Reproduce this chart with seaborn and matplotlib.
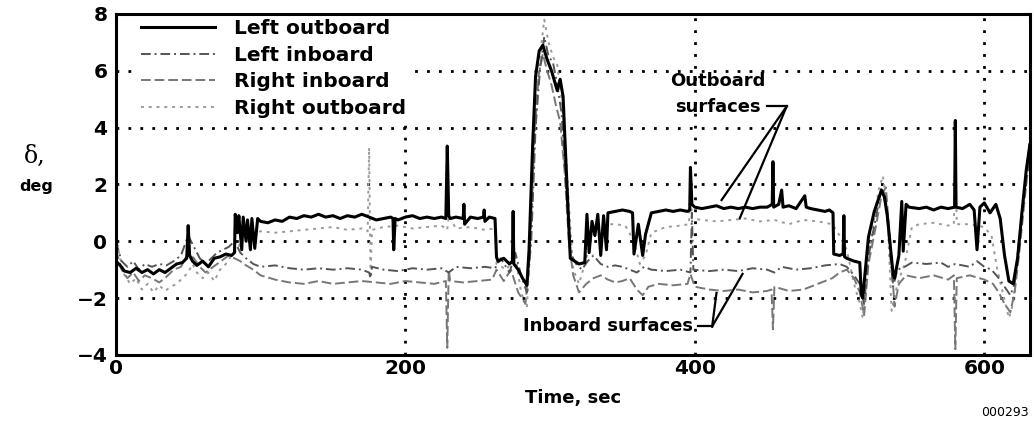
import numpy as np
import pandas as pd
import seaborn as sns
import matplotlib.pyplot as plt
from matplotlib.lines import Line2D

# Control surface deflections vs time
lo_t = [0, 3, 6, 10, 14, 18, 22, 26, 30, 34, 38, 42, 46, 49, 50, 51, 53, 56, 60, 64,
        68, 72, 76, 80, 82, 82.5, 84, 85, 87, 88, 90, 91, 93, 94, 96, 98, 100, 105, 110, 115,
        120, 125, 130, 135, 140, 145, 150, 155, 160, 165, 170, 175, 180, 185, 190, 191.5, 192, 193, 195, 200,
        205, 210, 215, 220, 225, 228, 229, 230, 231, 235, 240, 240.5, 241, 245, 250, 254, 254.5, 255, 258, 262,
        263, 264, 268, 272, 274, 274.5, 275, 278, 281, 284, 285.5, 288, 290, 292.5, 295, 298, 301, 305, 307, 309,
        311.5, 314, 317, 320, 324, 325.5, 327, 329, 331, 333, 335, 337, 339, 340, 345, 350, 355, 357, 358, 361,
        364, 366, 370, 375, 380, 385, 390, 395, 396.5, 397, 398, 400, 405, 410, 415, 420, 425, 430, 435, 440,
        445, 450, 453.5, 454, 454.5, 458, 460, 461, 465, 470, 476, 477, 480, 485, 490, 493, 495.5, 496, 500, 502.5,
        503, 503.5, 505, 510, 514, 515, 516, 520, 524, 529, 531, 533, 537, 538, 541, 543, 544, 546, 548, 555,
        560, 565, 570, 575, 579.5, 580, 580.5, 585, 590, 593, 595, 597, 600, 604, 608, 611, 614, 617, 620, 623,
        626, 629, 631.5]
lo_y = [-0.7, -0.85, -1.05, -1.1, -0.95, -1.1, -1.0, -1.15, -1.0, -1.1, -0.95, -0.8, -0.75, -0.6, 0.55, -0.5, -0.7, -0.85, -0.7, -0.9,
        -0.6, -0.55, -0.45, -0.5, -0.4, 0.95, 0.3, 0.9, -0.3, 0.85, 0.0, 0.75, -0.3, 0.8, -0.25, 0.8, 0.7, 0.65, 0.75, 0.7,
        0.85, 0.8, 0.9, 0.85, 0.95, 0.85, 0.9, 0.8, 0.9, 0.85, 0.95, 0.85, 0.75, 0.8, 0.85, 0.8, -0.3, 0.8, 0.75, 0.85,
        0.9, 0.8, 0.85, 0.8, 0.85, 0.8, 3.35, 0.9, 0.8, 0.85, 0.8, 1.3, 0.6, 0.85, 0.8, 0.85, 1.1, 0.7, 0.85, 0.8,
        -0.55, -0.7, -0.6, -0.8, -0.7, 1.05, -0.8, -1.0, -1.3, -1.55, -0.3, 3.4, 5.8, 6.7, 6.9, 6.4, 6.0, 5.3, 5.7, 5.1,
        2.2, -0.6, -0.7, -0.8, -0.75, 0.95, -0.4, 0.7, 0.2, 0.95, -0.5, 0.9, -0.3, 1.0, 1.05, 1.1, 1.05, 1.0, -0.45, 0.6,
        -0.5, 0.25, 1.0, 1.05, 1.1, 1.05, 1.1, 1.05, 1.1, 2.6, 1.3, 1.2, 1.15, 1.2, 1.25, 1.15, 1.2, 1.15, 1.2, 1.15,
        1.2, 1.2, 1.3, 2.8, 1.2, 1.3, 1.8, 1.2, 1.25, 1.15, 1.6, 1.2, 1.15, 1.1, 1.05, 1.1, 1.0, -0.45, -0.5, -0.45,
        0.9, -0.55, -0.6, -0.7, -0.75, -1.85, -2.0, 0.15, 1.05, 1.8, 1.55, 0.9, -1.15, -1.3, -0.5, 1.4, -0.35, 1.3, 1.2, 1.15,
        1.2, 1.1, 1.2, 1.15, 1.2, 4.25, 1.2, 1.15, 1.3, 1.1, -0.3, 1.2, 1.35, 1.0, 1.3, 0.8, -0.5, -1.4, -1.5, -0.6,
        1.0, 2.5, 3.4]

li_t = [0, 4, 8, 12, 16, 20, 25, 30, 35, 40, 45, 50, 54, 58, 62, 66, 70, 74, 78, 82,
        86, 90, 95, 100, 110, 120, 130, 140, 150, 160, 170, 175, 176, 177, 185, 195, 205, 215, 225, 230,
        235, 245, 255, 262, 266, 272, 276, 280, 284, 287, 290, 293, 296, 299, 302, 305, 308, 311, 314, 318,
        322, 326, 330, 335, 340, 345, 350, 355, 360, 365, 370, 380, 390, 397, 398, 399, 410, 420, 430, 440,
        450, 455, 460, 470, 480, 490, 500, 505, 510, 514, 517, 520, 525, 529, 532, 535, 537, 540, 545, 550,
        560, 570, 575, 580, 585, 590, 595, 600, 605, 610, 614, 618, 621, 624, 628, 631.5]
li_y = [0.0, -0.7, -0.9, -0.7, -1.0, -0.8, -0.9, -0.8, -0.85, -0.7, -0.5, 0.2, -0.2, -0.6, -0.8, -0.6, -0.4, -0.3, -0.2, 0.0,
        -0.4, -0.6, -0.8, -0.9, -0.85, -0.95, -1.0, -0.95, -1.0, -0.95, -1.0, -1.1, -1.3, -0.9, -1.0, -1.05, -0.95, -1.0, -0.95, -1.1,
        -0.9, -0.95, -0.9, -0.95, -0.6, -1.1, -0.4, -1.2, -1.8, 0.0, 4.0, 6.0, 7.2, 6.5, 6.3, 5.5, 4.5, 2.0, -0.4, -0.8,
        -1.0, -0.7, -0.5, -0.8, -0.9, -0.85, -0.9, -1.0, -1.1, -0.9, -1.0, -1.05, -1.0, -1.1, 1.0, -1.0, -1.05, -1.0, -1.05, -0.95,
        -1.0, -1.1, -0.9, -1.0, -0.95, -0.85, -0.8, -0.9, -1.2, -1.5, -2.2, -0.5, 0.8, 1.9, 1.5, -0.5, -1.6, -1.0, -0.9, -0.75,
        -0.8, -0.75, -0.9, -0.8, -0.85, -0.9, -0.7, -0.9, -1.0, -1.3, -1.6, -1.9, -1.5, 0.0, 1.8, 3.0]

ri_t = [0, 4, 8, 12, 16, 20, 25, 30, 35, 40, 45, 50, 54, 58, 62, 66, 70, 74, 78, 82,
        86, 90, 95, 100, 110, 120, 130, 140, 150, 160, 170, 180, 190, 200, 210, 220, 228, 229, 230, 231,
        240, 250, 260, 263, 268, 273, 278, 283, 286, 289, 292, 295, 298, 301, 304, 307, 310, 313, 316, 320,
        325, 330, 335, 340, 345, 350, 355, 360, 364, 368, 375, 385, 395, 397, 400, 410, 420, 430, 440, 450,
        453, 454, 455, 465, 475, 485, 495, 500, 505, 510, 514, 517, 520, 525, 529, 532, 535, 538, 541, 546,
        555, 565, 575, 579, 580, 581, 590, 600, 606, 610, 614, 618, 621, 624, 628, 631.5]
ri_y = [-0.3, -1.0, -1.3, -1.1, -1.4, -1.2, -1.3, -1.45, -1.25, -1.0, -0.9, -0.4, -0.6, -0.9, -1.1, -0.95, -0.8, -0.65, -0.5, -0.6,
        -0.7, -0.85, -1.0, -1.2, -1.35, -1.45, -1.5, -1.4, -1.5, -1.45, -1.4, -1.45, -1.5, -1.4, -1.45, -1.5, -1.4, -3.75, -1.0, -1.4,
        -1.45, -1.4, -1.35, -1.0, -1.4, -1.0, -1.8, -2.2, -0.5, 3.5, 5.8, 6.6, 6.0, 5.5, 4.8, 4.2, 2.5, 0.0, -1.2, -1.8,
        -1.5, -1.3, -1.2, -1.35, -1.45, -1.4, -1.3, -1.7, -1.9, -1.6, -1.5, -1.55, -1.5, -1.15, -1.6, -1.7, -1.75, -1.7, -1.8, -1.75,
        -1.7, -3.1, -1.6, -1.75, -1.7, -1.5, -1.3, -1.1, -1.0, -1.3, -1.8, -2.6, -0.8, 0.5, 1.6, 1.9, 0.0, -2.3, -1.5, -1.2,
        -1.3, -1.2, -1.35, -1.2, -3.8, -1.3, -1.2, -1.35, -1.5, -1.8, -2.2, -2.5, -1.8, -0.5, 1.5, 3.2]

ro_t = [0, 3, 6, 10, 14, 18, 22, 26, 30, 34, 38, 42, 46, 50, 53, 56, 60, 64, 68, 72,
        76, 80, 84, 88, 92, 96, 100, 110, 120, 130, 140, 150, 160, 170, 174, 175, 176, 177, 185, 195,
        205, 215, 225, 229, 230, 235, 245, 255, 262, 263, 270, 276, 280, 284, 287, 290, 293, 296, 299, 302,
        305, 308, 311, 314, 316, 320, 324, 328, 332, 338, 345, 352, 358, 362, 366, 370, 380, 390, 396, 397,
        398, 405, 415, 425, 435, 445, 455, 465, 475, 485, 495, 500, 505, 510, 514, 516, 519, 523, 527, 530,
        533, 536, 540, 545, 550, 555, 565, 575, 579, 580, 581, 590, 600, 605, 609, 613, 617, 620, 623, 626,
        629, 631.5]
ro_y = [0.2, -0.6, -1.2, -1.5, -1.3, -1.7, -1.5, -1.8, -1.55, -1.75, -1.6, -1.5, -1.3, -1.1, -0.8, -1.1, -1.3, -1.1, -1.4, -1.0,
        -0.8, -0.5, -0.3, 0.2, 0.4, 0.3, 0.35, 0.3, 0.35, 0.4, 0.45, 0.5, 0.4, 0.45, 0.35, 3.3, -1.3, 0.4, 0.5, 0.55,
        0.45, 0.5, 0.55, 0.4, 0.9, 0.45, 0.5, 0.4, 0.45, -0.8, -1.0, -0.5, -1.8, -2.35, 0.5, 4.5, 6.5, 7.8, 7.0, 6.5,
        6.2, 5.0, 3.0, 0.5, -1.0, -1.5, -0.8, 0.0, 0.5, 0.6, 0.6, 0.55, 0.0, -0.8, -0.5, 0.3, 0.5, 0.55, 0.6, 2.3,
        0.8, 0.75, 0.7, 0.75, 0.8, 0.7, 0.75, 0.6, 0.75, 0.7, 0.6, 0.2, -0.3, -1.5, -2.2, -2.7, -1.0, 0.5, 1.8, 2.3,
        1.0, -2.45, -1.5, -0.8, 0.5, 0.6, 0.65, 0.55, 0.6, 3.2, 0.6, 0.6, 0.5, 0.2, -1.0, -1.85, -2.7, -2.2, -0.5, 1.0,
        2.5, 3.65]

labels = ["Left outboard", "Left inboard", "Right inboard", "Right outboard"]

plt.rcParams["font.family"] = ["DejaVu Sans"]

fig = plt.figure(figsize=(10.34, 4.23), dpi=100)
ax = fig.add_axes([0.112, 0.161, 0.884, 0.806])

styles = [
    (ro_t, ro_y, "#9a9a9a", (0, (1.5, 2.5)), 1.4),
    (ri_t, ri_y, "#777777", (0, (5, 2)), 1.4),
    (li_t, li_y, "#555555", (0, (5, 2, 1, 2)), 1.4),
    (lo_t, lo_y, "black", "-", 2.2),
]
for t, y, c, ls, lw in styles:
    sns.lineplot(x=t, y=y, ax=ax, color=c, linestyle=ls, linewidth=lw,
                 estimator=None, sort=False, zorder=3)

ax.set_xlim(0, 631.5)
ax.set_ylim(-4, 8)
ax.set_xticks([0, 200, 400, 600])
ax.set_yticks([-4, -2, 0, 2, 4, 6, 8])
ax.tick_params(length=0, labelsize=14.5)
ax.tick_params(axis="y", pad=6)
ax.tick_params(axis="x", pad=3)
for lab in ax.get_xticklabels() + ax.get_yticklabels():
    lab.set_fontweight("bold")

# dotted grid at the inner ticks only
for xv in [200, 400, 600]:
    ax.axvline(xv, color="black", lw=2, ls=(0, (1, 3.3)), zorder=1)
for yv in [-2, 0, 2, 4, 6]:
    ax.axhline(yv, color="black", lw=2, ls=(0, (1, 3.3)), zorder=1)

for s in ax.spines.values():
    s.set_linewidth(2.2)
    s.set_zorder(6)

ax.set_xlabel("Time, sec", fontsize=13, fontweight="bold", labelpad=8)
ax.set_ylabel("")

handles = [
    Line2D([], [], color="black", lw=2.2),
    Line2D([], [], color="#555555", lw=1.4, ls=(0, (5, 2, 1, 2))),
    Line2D([], [], color="#777777", lw=1.4, ls=(0, (5, 2))),
    Line2D([], [], color="#9a9a9a", lw=1.4, ls=(0, (1.5, 2.5))),
]
leg = ax.legend(handles, labels, loc="upper left", bbox_to_anchor=(0.022, 1.0),
                prop={"weight": "bold", "size": 14.5}, handlelength=3.7,
                handletextpad=0.9, labelspacing=0.38, borderpad=0.25,
                borderaxespad=0, frameon=True, fancybox=False,
                framealpha=1, edgecolor="white")
leg.set_zorder(5)

# annotations
ax.text(416, 5.65, "Outboard", fontsize=13, fontweight="bold", ha="center", va="center")
ax.text(416, 4.72, "surfaces", fontsize=13, fontweight="bold", ha="center", va="center")
ax.plot([450, 463.5], [4.75, 4.75], color="black", lw=1.6)
ax.plot([463.5, 418.5], [4.75, 1.45], color="black", lw=1.6)
ax.plot([463.5, 431], [4.75, 0.8], color="black", lw=1.6)

ax.text(399, -3.0, "Inboard surfaces", fontsize=13, fontweight="bold", ha="right", va="center")
ax.plot([402.5, 412], [-3.0, -3.0], color="black", lw=1.6)
ax.plot([412, 415], [-3.0, -1.82], color="black", lw=1.6)
ax.plot([412, 433], [-3.0, -1.15], color="black", lw=1.6)

fig.text(0.034, 0.63, "δ,", fontsize=17, family="DejaVu Serif", ha="center", va="center")
fig.text(0.035, 0.558, "deg", fontsize=11.5, fontweight="bold", ha="center", va="center")
fig.text(0.995, 0.025, "000293", fontsize=9, ha="right", va="center")

fig.savefig("out.png", dpi=100)
